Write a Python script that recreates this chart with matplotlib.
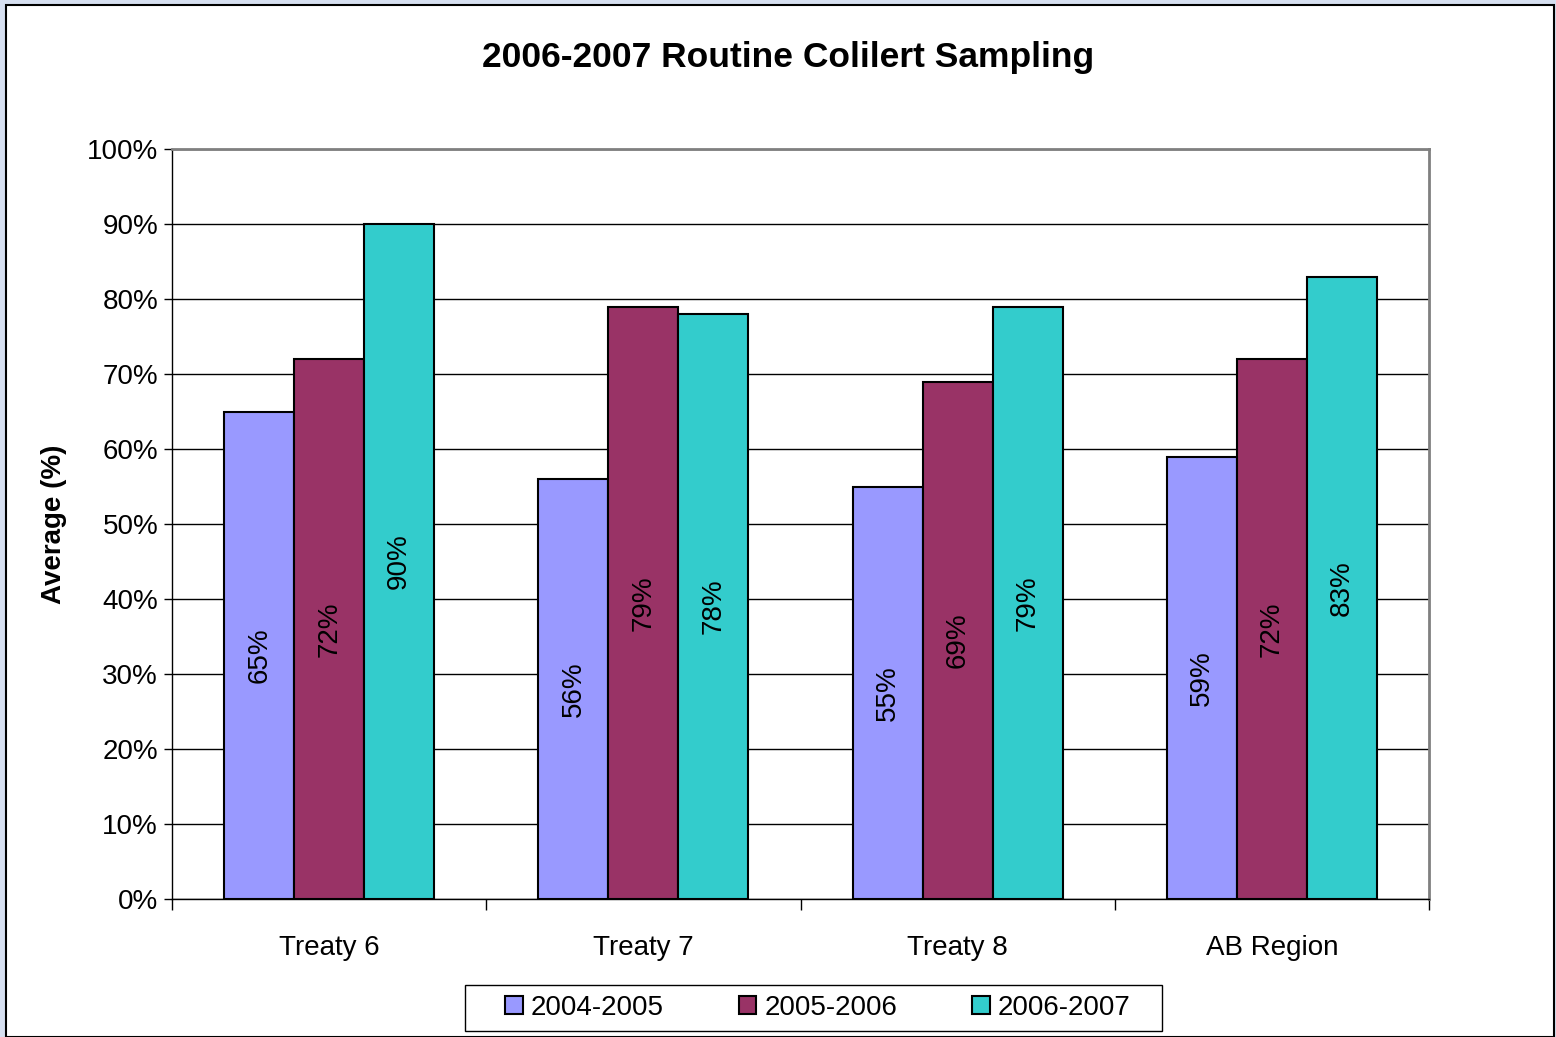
import matplotlib
matplotlib.use("Agg")
import matplotlib.pyplot as plt
import numpy as np
from matplotlib.patches import Rectangle

plt.rcParams['font.family'] = ['Liberation Sans', 'DejaVu Sans']

categories = ["Treaty 6", "Treaty 7", "Treaty 8", "AB Region"]
series_names = ["2004-2005", "2005-2006", "2006-2007"]
s2004 = [65, 56, 55, 59]
s2005 = [72, 79, 69, 72]
s2006 = [90, 78, 79, 83]
colors = ["#9999ff", "#993366", "#33cccc"]
yticks = [0, 10, 20, 30, 40, 50, 60, 70, 80, 90, 100]

FS = 20
W, H = 1556, 1037
fig = plt.figure(figsize=(W / 100, H / 100), dpi=100)
fig.patch.set_facecolor("#d6dff0")
# white chart area with black border
fig.patches.append(Rectangle((6 / W, 0), (1554 - 6) / W, 1 - 5 / H, transform=fig.transFigure,
                             facecolor="white", edgecolor="black", linewidth=1.5, zorder=-10))
# legend frame
fig.patches.append(Rectangle((465 / W, 1 - 1031 / H), (1162 - 465) / W, (1031 - 985) / H,
                             transform=fig.transFigure, facecolor="white", edgecolor="black",
                             linewidth=1, zorder=-5))

ax = fig.add_axes([172 / W, 1 - 899 / H, (1429 - 172) / W, (899 - 149) / H])
ax.set_zorder(2)
ax.set_facecolor("white")

x = np.arange(len(categories))
bw = 70 / 314.25
data = [s2004, s2005, s2006]
for i, (vals, c, name) in enumerate(zip(data, colors, series_names)):
    pos = x + (i - 1) * bw
    ax.bar(pos, vals, width=bw, color=c, edgecolor="black", linewidth=1.5, label=name, zorder=3)
    for p, v in zip(pos, vals):
        ax.text(p, v / 2, f"{v}%", rotation=90, ha="center", va="center", fontsize=FS, zorder=4)

ax.set_xlim(-0.5, len(categories) - 0.5)
ax.set_ylim(0, 100)
ax.set_yticks(yticks)
ax.set_yticklabels([f"{t}%" for t in yticks], fontsize=FS)
ax.set_xticks(x)
ax.set_xticklabels(categories, fontsize=FS)
ax.tick_params(axis="x", length=0, pad=26)
ax.set_xticks(np.arange(len(categories) + 1) - 0.5, minor=True)
ax.tick_params(axis="x", which="minor", length=8, direction="out", width=1)
ax.tick_params(axis="y", length=6, direction="out", width=1, pad=4)
ax.grid(axis="y", color="black", linewidth=1, zorder=0)
ax.set_axisbelow(True)
for s in ["top", "right"]:
    ax.spines[s].set_color("#808080")
    ax.spines[s].set_linewidth(2)
for s in ["left", "bottom"]:
    ax.spines[s].set_color("black")
    ax.spines[s].set_linewidth(1)

ax.set_ylabel("Average (%)", fontsize=FS, fontweight="bold", labelpad=14)
fig.text(788 / W, 1 - 57 / H, "2006-2007 Routine Colilert Sampling", ha="center", va="center",
         fontsize=25.5, fontweight="bold")

leg = fig.legend(loc="center", bbox_to_anchor=(818 / W, 1 - 1008 / H), ncol=3, fontsize=FS,
                 frameon=False, handlelength=0.62, handleheight=0.62,
                 columnspacing=2.7, handletextpad=0.3, borderpad=0.2)

fig.savefig("out.png", dpi=100, facecolor=fig.get_facecolor())
